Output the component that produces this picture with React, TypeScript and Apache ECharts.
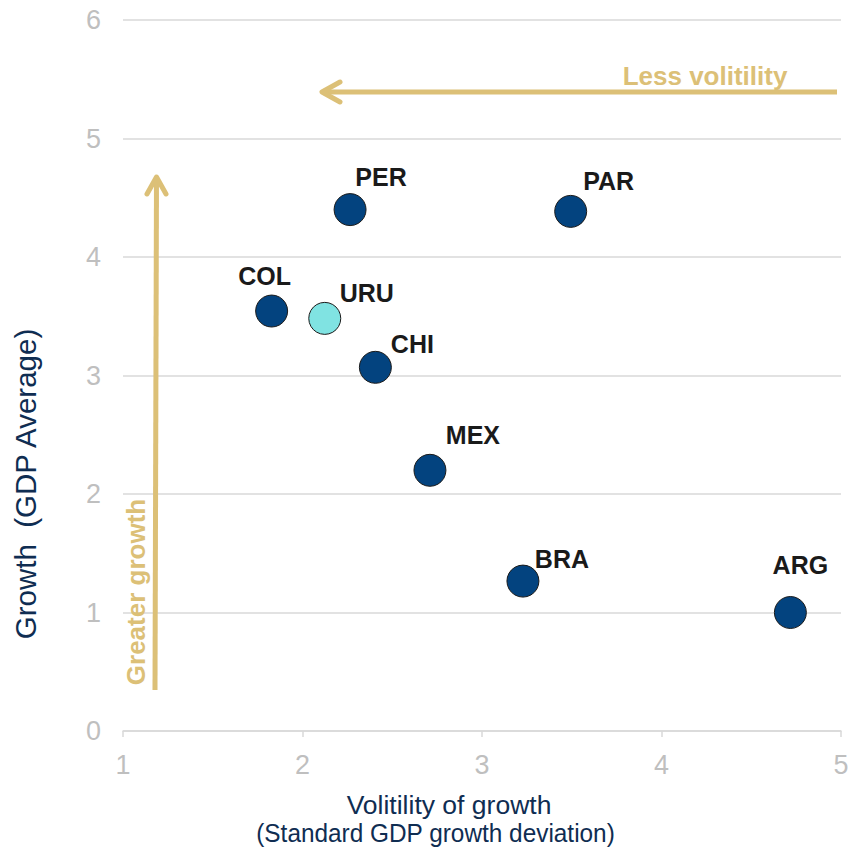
import React, { useEffect, useRef } from "react";
import * as echarts from "echarts";

const countries = ["PER", "PAR", "COL", "URU", "CHI", "MEX", "BRA", "ARG"];
const volatility = [2.265, 3.494, 1.828, 2.124, 2.406, 2.71, 3.228, 4.718];
const growth = [4.4, 4.385, 3.544, 3.482, 3.069, 2.2, 1.265, 1.0];
const pointColors = ["#03437f", "#03437f", "#03437f", "#80e3e2", "#03437f", "#03437f", "#03437f", "#03437f"];
const labelOffsets: [number, number][] = [
  [31, -33], [38, -30], [-7, -35], [42, -25], [37, -23], [43, -35], [39, -22], [10, -48],
];
const xTicks = [1, 2, 3, 4, 5];
const yTicks = [0, 1, 2, 3, 4, 5, 6];
const xTitleLines = ["Volitility of growth", "(Standard GDP growth deviation)"];
const yTitle = "Growth  (GDP Average)";

const FONT = "Liberation Sans, Arial, Helvetica, sans-serif";
const GOLD = "#dcc077";
const NAVY = "#0f2d52";

export default function App() {
  const ref = useRef<HTMLDivElement>(null);
  useEffect(() => {
    if (!ref.current) return;
    const chart = echarts.init(ref.current, undefined, { renderer: "svg" });
    chart.setOption({
      animation: false,
      backgroundColor: "#ffffff",
      grid: { left: 123, right: 7, top: 20, bottom: 118, containLabel: false, outerBoundsMode: "none" },
      xAxis: {
        type: "value",
        min: xTicks[0],
        max: xTicks[xTicks.length - 1],
        interval: 1,
        axisLine: { show: true, lineStyle: { color: "#d9d9d9", width: 1.5 } },
        axisTick: { show: true, length: 6, lineStyle: { color: "#d9d9d9", width: 1.5 } },
        axisLabel: { color: "#bfbfbf", fontSize: 27, fontFamily: FONT, margin: 20 },
        splitLine: { show: false },
      },
      yAxis: {
        type: "value",
        min: yTicks[0],
        max: yTicks[yTicks.length - 1],
        interval: 1,
        axisLine: { show: false },
        axisTick: { show: false },
        axisLabel: { color: "#bfbfbf", fontSize: 27, fontFamily: FONT, margin: 22 },
        splitLine: { show: true, lineStyle: { color: "#d9d9d9", width: 1.5 } },
      },
      graphic: [
        {
          type: "text",
          x: 449,
          y: 805,
          style: {
            text: xTitleLines[0],
            fill: NAVY,
            font: `26.5px ${FONT}`,
            align: "center",
            verticalAlign: "middle",
          },
        },
        {
          type: "text",
          x: 435.5,
          y: 833,
          scaleX: 0.92,
          style: {
            text: xTitleLines[1],
            fill: NAVY,
            font: `26.5px ${FONT}`,
            align: "center",
            verticalAlign: "middle",
          },
        },
        {
          type: "text",
          x: 25,
          y: 484,
          rotation: Math.PI / 2,
          style: {
            text: yTitle,
            fill: NAVY,
            font: `29.5px ${FONT}`,
            align: "center",
            verticalAlign: "middle",
          },
        },
        {
          type: "polyline",
          shape: { points: [[837, 92], [322, 92]] },
          style: { stroke: GOLD, lineWidth: 5, fill: null },
          z: 1,
        },
        {
          type: "polyline",
          shape: { points: [[340, 82], [322, 92], [340, 102]] },
          style: { stroke: GOLD, lineWidth: 5, fill: null, lineCap: "round", lineJoin: "round" },
          z: 1,
        },
        {
          type: "text",
          x: 705,
          y: 76,
          style: {
            text: "Less volitility",
            fill: GOLD,
            font: `bold 26px ${FONT}`,
            align: "center",
            verticalAlign: "middle",
          },
          z: 1,
        },
        {
          type: "polyline",
          shape: { points: [[155, 690], [156.5, 177]] },
          style: { stroke: GOLD, lineWidth: 5, fill: null },
          z: 1,
        },
        {
          type: "polyline",
          shape: { points: [[147, 194], [156.5, 177], [166, 194]] },
          style: { stroke: GOLD, lineWidth: 5, fill: null, lineCap: "round", lineJoin: "round" },
          z: 1,
        },
        {
          type: "text",
          x: 136,
          y: 592,
          rotation: Math.PI / 2,
          style: {
            text: "Greater growth",
            fill: GOLD,
            font: `bold 26px ${FONT}`,
            align: "center",
            verticalAlign: "middle",
          },
          z: 1,
        },
      ],
      series: [
        {
          type: "scatter",
          symbolSize: 32,
          z: 3,
          itemStyle: { opacity: 1 },
          data: countries.map((c, i) => ({
            name: c,
            value: [volatility[i], growth[i]],
            itemStyle: { color: pointColors[i], borderColor: "#1a1a1a", borderWidth: 1, opacity: 1 },
            label: {
              show: true,
              position: "inside",
              offset: labelOffsets[i],
              formatter: c,
              color: "#1a1a1a",
              opacity: 1,
              fontSize: 25,
              fontWeight: "bold",
              fontFamily: FONT,
            },
          })),
        },
      ],
    });
    return () => chart.dispose();
  }, []);
  return (
    <div
      ref={ref}
      style={{ position: "fixed", left: 0, top: 0, width: 848, height: 849 }}
    />
  );
}
